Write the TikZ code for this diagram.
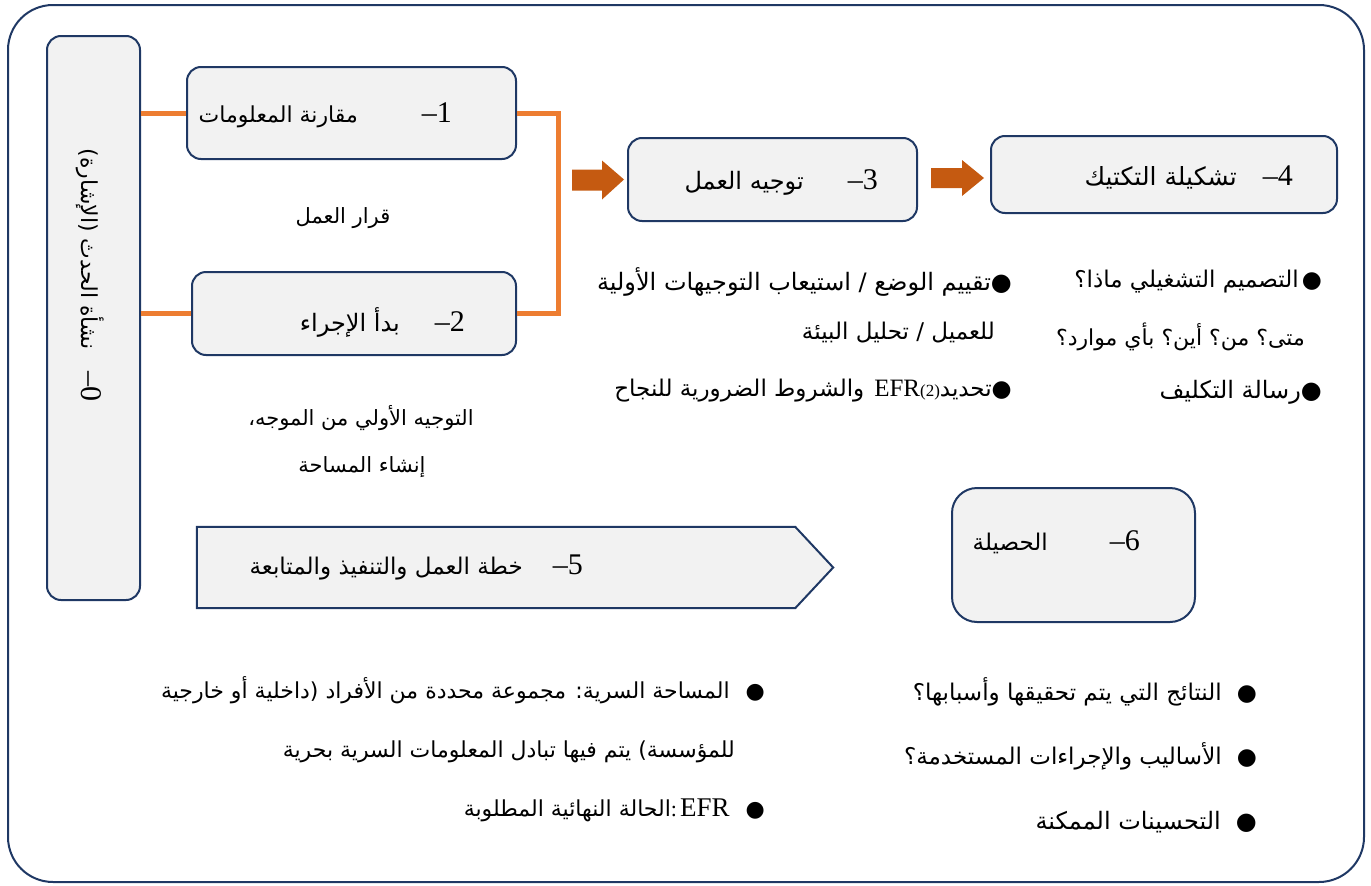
\documentclass[tikz,border=0pt]{standalone}
\usepackage{fontspec}
\setmainfont{Liberation Serif}
\newfontfamily\arabicfont[Script=Arabic]{DejaVu Sans}
\newfontfamily\symfont{DejaVu Sans}
\TeXXeTstate=1
\usetikzlibrary{calc}
\definecolor{navy}{HTML}{1F3864}
\definecolor{boxfill}{HTML}{F2F2F2}
\definecolor{connorange}{HTML}{ED7D31}
\definecolor{arroworange}{HTML}{C55A11}
\newcommand{\fsz}[1]{\fontsize{#1}{#1}\selectfont}
\newcommand{\stepnum}[1]{{\fsz{30}\rmfamily –#1}}
\newcommand{\bul}{{\symfont ●}}
\tikzset{
  stepbox/.style={draw=navy, line width=2pt, fill=boxfill, rounded corners=14pt, inner sep=0pt},
  conn/.style={draw=connorange, line width=5pt},
  blockarrow/.style={fill=arroworange},
  boxtext/.style={inner sep=0pt, anchor=east},
  bodytext/.style={inner sep=0pt, anchor=east, font=\fsz{22}},
}
\begin{document}
\begin{tikzpicture}[x=1pt,y=-1pt]
\useasboundingbox (0,0) rectangle (1371,886);
\draw[navy, line width=2pt, rounded corners=45pt] (8,5) rectangle (1364,882);

% boxes
\node[stepbox, minimum width=93pt, minimum height=564pt] (b0) at (93.5,318) {};
\node[stepbox, minimum width=329pt, minimum height=92pt] (b1) at (351.5,113) {};
\node[stepbox, minimum width=324pt, minimum height=83pt] (b2) at (354,313.5) {};
\node[stepbox, minimum width=289pt, minimum height=83pt] (b3) at (772.5,179.5) {};
\node[stepbox, minimum width=346pt, minimum height=77pt] (b4) at (1164,174.5) {};
\node[inner sep=0pt, minimum width=598pt, minimum height=81pt] (b5) at (496,567.5) {};
\draw[navy, line width=2pt, fill=boxfill] (b5.north west) -- (b5.north east) -- ([xshift=38pt]b5.east) -- (b5.south east) -- (b5.south west) -- cycle;
\node[stepbox, rounded corners=25pt, minimum width=243pt, minimum height=134pt] (b6) at (1073.5,555) {};

% box texts
\node[inner sep=0pt, rotate=-90] (t0) at (90,275) {{\fsz{22}\arabicfont\beginR نشأة الحدث (الإشارة)\endR}\hspace{22pt}\stepnum{0}};
\node[boxtext] (t1) at (452,115) {{\fsz{22}\arabicfont\beginR مقارنة المعلومات\endR}\hspace{64pt}\stepnum{1}};
\node[boxtext] (t2) at (465,322) {{\fsz{24}\arabicfont\beginR بدأ الإجراء\endR}\hspace{35pt}\stepnum{2}};
\node[boxtext] (t3) at (878,182) {{\fsz{24}\arabicfont\beginR توجيه العمل\endR}\hspace{44pt}\stepnum{3}};
\node[boxtext] (t4) at (1293,177) {{\fsz{25}\arabicfont\beginR تشكيلة التكتيك\endR}\hspace{26pt}\stepnum{4}};
\node[boxtext] (t5) at (583,567) {{\fsz{23}\arabicfont\beginR خطة العمل والتنفيذ والمتابعة\endR}\hspace{30pt}\stepnum{5}};
\node[boxtext] (t6) at (1140,542) {{\fsz{23}\arabicfont\beginR الحصيلة\endR}\hspace{62pt}\stepnum{6}};

% orange connectors
\draw[conn] (b1.west -| b0.east) -- (b1.west);
\draw[conn] (b2.west -| b0.east) -- (b2.west);
\draw[conn] (b1.east) -- ++(41,0) |- (b2.east);

% block arrows
\coordinate (a1) at ([xshift=-3pt]b3.west);
\fill[blockarrow] (a1) -- ++(-22,-19) -- ++(0,9) -- ++(-30,0) -- ++(0,21) -- ++(30,0) -- ++(0,9) -- cycle;
\coordinate (a2) at ([xshift=-6pt,yshift=-3.5pt]b4.west);
\fill[blockarrow] (a2) -- ++(-22,-18) -- ++(0,8) -- ++(-31,0) -- ++(0,20) -- ++(31,0) -- ++(0,8) -- cycle;

% free texts
\node[bodytext, anchor=center, font=\fsz{21}] (q1) at (343,218) {\arabicfont\beginR قرار العمل\endR};
\node[bodytext, anchor=center, font=\fsz{21}] (q2) at (361,418) {\arabicfont\beginR التوجيه الأولي من الموجه،\endR};
\node[bodytext, anchor=center, font=\fsz{21}] (q3) at (362,467) {\arabicfont\beginR إنشاء المساحة\endR};

% lists under box 3
\node[bodytext, font=\fsz{24}] (l1) at (1012,282) {{\arabicfont\beginR تقييم الوضع / استيعاب التوجيهات الأولية\endR}\bul};
\node[bodytext, font=\fsz{23}] (l2) at (995,333) {\arabicfont\beginR للعميل / تحليل البيئة\endR};
\node[bodytext, font=\fsz{23}] (l3) at (1012,391) {{\arabicfont\beginR والشروط الضرورية للنجاح\endR}\hspace{10pt}{\fsz{25}EFR}{\fsz{17}(2)}{\arabicfont\beginR تحديد\endR}\bul};

% lists under box 4
\node[bodytext, font=\fsz{23}] (r1) at (1322,282) {{\arabicfont\beginR التصميم التشغيلي ماذا؟\endR}\hspace{3pt}\bul};
\node[bodytext] (r2) at (1305,337) {\arabicfont\beginR متى؟ من؟ أين؟ بأي موارد؟\endR};
\node[bodytext, font=\fsz{24}] (r3) at (1322,392) {{\arabicfont\beginR رسالة التكليف\endR}\bul};

% bottom left list
\node[bodytext] (bl1) at (765,690) {{\arabicfont\beginR المساحة السرية: مجموعة محددة من الأفراد (داخلية أو خارجية\endR}\hspace{16pt}\bul};
\node[bodytext] (bl2) at (735,752) {\arabicfont\beginR للمؤسسة) يتم فيها تبادل المعلومات السرية بحرية\endR};
\node[bodytext] (bl3) at (765,810) {{\arabicfont\beginR الحالة النهائية المطلوبة\endR}:\hspace{3pt}{\fsz{27}EFR}\hspace{16pt}\bul};

% bottom right list
\node[bodytext, font=\fsz{23}] (br1) at (1257,692) {{\arabicfont\beginR النتائج التي يتم تحقيقها وأسبابها؟\endR}\hspace{15pt}\bul};
\node[bodytext, font=\fsz{23}] (br2) at (1257,756) {{\arabicfont\beginR الأساليب والإجراءات المستخدمة؟\endR}\hspace{15pt}\bul};
\node[bodytext, font=\fsz{24}] (br3) at (1257,822) {{\arabicfont\beginR التحسينات الممكنة\endR}\hspace{15pt}\bul};
\end{tikzpicture}
\end{document}
